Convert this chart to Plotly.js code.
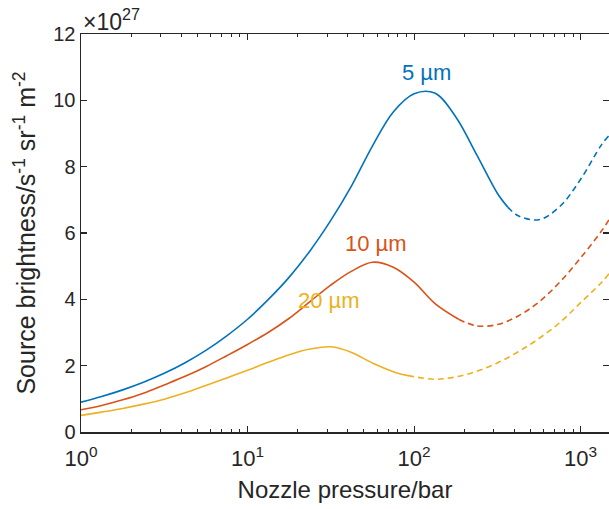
<!DOCTYPE html>
<html>
<head>
<meta charset="utf-8">
<script src="https://cdn.plot.ly/plotly-3.0.1.min.js"></script>
<style>html,body{margin:0;padding:0;background:#fff;overflow:hidden}#chart{width:609px;height:509px}</style>
</head>
<body>
<div id="chart"></div>
<script>
// Nozzle pressure (bar) and source brightness (x1e27 s^-1 sr^-1 m^-2)
var p5Solid  = [1, 1.33, 1.78, 2.37, 3.16, 4.22, 5.62, 7.5, 10, 13.3, 17.8, 23.7, 31.6, 42.2, 56.2, 75, 100, 133, 178, 237, 316, 365];
var b5Solid  = [0.90, 1.07, 1.27, 1.50, 1.77, 2.09, 2.46, 2.90, 3.40, 3.99, 4.67, 5.46, 6.38, 7.43, 8.62, 9.65, 10.2, 10.22, 9.5, 8.37, 7.2, 6.78];
var p5Dash   = [365, 422, 562, 750, 1000, 1330, 1480];
var b5Dash   = [6.78, 6.52, 6.40, 6.8, 7.62, 8.65, 8.94];

var p10Solid = [1, 1.33, 1.78, 2.37, 3.16, 4.22, 5.62, 7.5, 10, 13.3, 17.8, 23.7, 31.6, 42.2, 56.2, 75, 100, 133, 185];
var b10Solid = [0.67, 0.80, 0.97, 1.17, 1.42, 1.68, 1.97, 2.30, 2.64, 3.0, 3.43, 3.93, 4.43, 4.85, 5.12, 4.97, 4.52, 3.88, 3.4];
var p10Dash  = [185, 237, 316, 422, 562, 750, 1000, 1330, 1480];
var b10Dash  = [3.4, 3.2, 3.24, 3.5, 3.92, 4.52, 5.25, 6.05, 6.4];

var p20Solid = [1, 1.33, 1.78, 2.37, 3.16, 4.22, 5.62, 7.5, 10, 13.3, 17.8, 23.7, 31.6, 42.2, 56.2, 75, 92];
var b20Solid = [0.50, 0.60, 0.71, 0.84, 0.99, 1.18, 1.40, 1.63, 1.86, 2.10, 2.33, 2.50, 2.57, 2.40, 2.08, 1.82, 1.70];
var p20Dash  = [92, 133, 178, 237, 316, 422, 562, 750, 1000, 1330, 1480];
var b20Dash  = [1.70, 1.59, 1.66, 1.83, 2.08, 2.42, 2.82, 3.3, 3.9, 4.5, 4.77];

var seriesLabels = ['5 µm', '10 µm', '20 µm'];
var xTickVals = [1, 10, 100, 1000];
var xTickText = ['10<sup>0</sup>', '10<sup>1</sup>', '10<sup>2</sup>', '10<sup>3</sup>'];
var xMinorVals = [2,3,4,5,6,7,8,9,20,30,40,50,60,70,80,90,200,300,400,500,600,700,800,900];
var yTickVals = [0, 2, 4, 6, 8, 10, 12];

var colors = ['#0072BD', '#D95319', '#EDB120'];
function tr(x, y, c, dash) {
  return {x: x, y: y, mode: 'lines', type: 'scatter', hoverinfo: 'skip', showlegend: false,
          line: {color: c, width: 1.6, shape: 'spline', smoothing: 1, dash: dash}};
}
var data = [
  tr(p5Solid, b5Solid, colors[0], 'solid'),
  tr(p5Dash, b5Dash, colors[0], '6px,4px'),
  tr(p10Solid, b10Solid, colors[1], 'solid'),
  tr(p10Dash, b10Dash, colors[1], '6px,4px'),
  tr(p20Solid, b20Solid, colors[2], 'solid'),
  tr(p20Dash, b20Dash, colors[2], '6px,4px')
];

var axisColor = '#262626';
var fam = 'Liberation Sans, Arial, sans-serif';
var layout = {
  width: 609, height: 509,
  margin: {l: 81, r: 0, t: 34, b: 77},
  paper_bgcolor: '#fff', plot_bgcolor: '#fff',
  font: {family: fam, size: 20, color: axisColor},
  showlegend: false,
  xaxis: {
    type: 'log', range: [0, Math.log10(1480)],
    tickmode: 'array', tickvals: xTickVals, ticktext: xTickText,
    ticks: 'inside', ticklen: 6, tickwidth: 1.2, tickcolor: axisColor,
    ticklabelstandoff: 6,
    minor: {tickmode: 'array', tickvals: xMinorVals, ticks: 'inside', ticklen: 3, tickwidth: 1, tickcolor: axisColor, showgrid: false},
    showline: true, linecolor: axisColor, linewidth: 1.5, mirror: 'ticks',
    showgrid: false, zeroline: false,
    tickfont: {family: fam, size: 22, color: axisColor},
    title: {text: 'Nozzle pressure/bar', font: {family: fam, size: 24, color: axisColor}, standoff: 11}
  },
  yaxis: {
    range: [0, 12],
    tickmode: 'array', tickvals: yTickVals,
    ticks: 'inside', ticklen: 6, tickwidth: 1.2, tickcolor: axisColor,
    showline: true, linecolor: axisColor, linewidth: 1.5, mirror: 'ticks',
    showgrid: false, zeroline: false,
    tickfont: {family: fam, size: 20, color: axisColor},
    title: {text: 'Source brightness/s<sup>-1</sup> sr<sup>-1</sup> m<sup>-2</sup>', font: {family: fam, size: 25, color: axisColor}, standoff: 10}
  },
  annotations: [
    {x: Math.log10(118), y: 10.83, xref: 'x', yref: 'y', text: seriesLabels[0], showarrow: false,
     font: {family: fam, size: 22, color: colors[0]}},
    {x: Math.log10(59), y: 5.68, xref: 'x', yref: 'y', text: seriesLabels[1], showarrow: false,
     font: {family: fam, size: 22, color: colors[1]}},
    {x: Math.log10(30.7), y: 3.97, xref: 'x', yref: 'y', text: seriesLabels[2], showarrow: false,
     font: {family: fam, size: 22, color: colors[2]}},
    {x: 0, y: 1, xref: 'paper', yref: 'paper', xanchor: 'left', yanchor: 'bottom', yshift: -3,
     text: '×10<sup>27</sup>', showarrow: false, font: {family: fam, size: 23, color: axisColor}}
  ]
};
Plotly.newPlot('chart', data, layout, {displayModeBar: false, staticPlot: true});
</script>
</body>
</html>
